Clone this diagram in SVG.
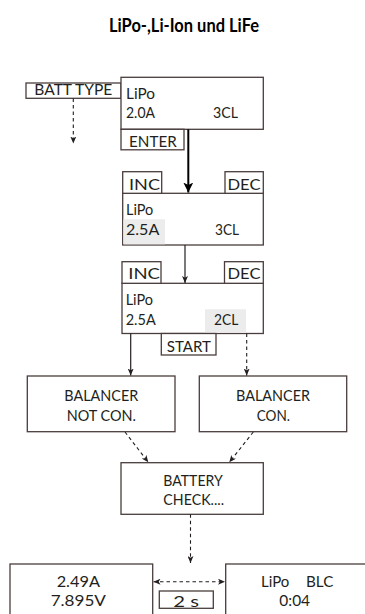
<svg xmlns="http://www.w3.org/2000/svg" width="365" height="614" viewBox="0 0 365 614">
<style>
.bx{fill:#fff;stroke:#4a3c3c;stroke-width:1.3}
.hl{fill:#ececec;stroke:none}
.t{font-family:Lato,"Open Sans","Liberation Sans",sans-serif;fill:#231f20;font-size:15.5px}
.tb{font-family:Lato,"Open Sans","Liberation Sans",sans-serif;fill:#231f20;font-size:16px}
.m{text-anchor:middle}
.ttl{font-family:Lato,"Open Sans","Liberation Sans",sans-serif;font-weight:700;font-size:19.5px;fill:#000;text-anchor:middle}
.thick{stroke:#000;stroke-width:2;fill:none}
.sol{stroke:#231f20;stroke-width:1.2;fill:none}
.dsh{stroke:#231f20;stroke-width:1.1;fill:none;stroke-dasharray:3.5 3}
</style>
<defs>
<marker id="ab" markerWidth="10" markerHeight="10" refX="10" refY="5" orient="auto" markerUnits="userSpaceOnUse" viewBox="0 0 10 10"><path d="M0,0 L10,5 L0,10 L2.5,5 Z" fill="#000"/></marker>
<marker id="as" markerWidth="7" markerHeight="6" refX="7" refY="3" orient="auto" markerUnits="userSpaceOnUse" viewBox="0 0 7 6"><path d="M0,0 L7,3 L0,6 L1.8,3 Z" fill="#231f20"/></marker>
<marker id="asr" markerWidth="7" markerHeight="6" refX="0" refY="3" orient="auto" markerUnits="userSpaceOnUse" viewBox="0 0 7 6"><path d="M7,0 L0,3 L7,6 L5.2,3 Z" fill="#231f20"/></marker>
</defs>

<text class="ttl" x="184" y="32" textLength="150" lengthAdjust="spacingAndGlyphs">LiPo-,Li-Ion und LiFe</text>

<g id="batt-type">
<rect class="bx" x="26" y="83" width="95" height="15.3"/>
<text class="t" x="34.3" y="94.5" textLength="78" lengthAdjust="spacingAndGlyphs">BATT TYPE</text>
</g>

<g id="screen1">
<rect class="bx" x="121" y="77.3" width="142.3" height="52"/>
<text class="t" x="126" y="99.3" textLength="29" lengthAdjust="spacingAndGlyphs">LiPo</text>
<text class="t" x="126" y="118.3" textLength="29" lengthAdjust="spacingAndGlyphs">2.0A</text>
<text class="t" x="213" y="118.3" textLength="25" lengthAdjust="spacingAndGlyphs">3CL</text>
</g>
<g id="enter">
<rect class="bx" x="121" y="129.3" width="63" height="20.5"/>
<text class="t" x="129" y="147.3" textLength="47.7" lengthAdjust="spacingAndGlyphs">ENTER</text>
</g>

<g id="screen2">
<rect class="bx" x="122.7" y="193.3" width="140.6" height="51.7"/>
<rect class="hl" x="123.4" y="219.3" width="41.6" height="25"/>
<text class="t" x="126" y="215" textLength="27.3" lengthAdjust="spacingAndGlyphs">LiPo</text>
<text class="t" x="126" y="235" textLength="33.3" lengthAdjust="spacingAndGlyphs">2.5A</text>
<text class="t" x="215" y="235" textLength="24" lengthAdjust="spacingAndGlyphs">3CL</text>
</g>
<g id="inc2">
<rect class="bx" x="122.7" y="171.7" width="39" height="21.6"/>
<text class="t" x="129" y="190" textLength="31" lengthAdjust="spacingAndGlyphs">INC</text>
</g>
<g id="dec2">
<rect class="bx" x="225" y="171.7" width="38.3" height="21.6"/>
<text class="t" x="227.5" y="190" textLength="33" lengthAdjust="spacingAndGlyphs">DEC</text>
</g>

<g id="screen3">
<rect class="bx" x="122" y="283.3" width="141.3" height="50.2"/>
<rect class="hl" x="205" y="309.3" width="41" height="23.6"/>
<text class="t" x="125.7" y="305" textLength="27.3" lengthAdjust="spacingAndGlyphs">LiPo</text>
<text class="t" x="125.7" y="325" textLength="30" lengthAdjust="spacingAndGlyphs">2.5A</text>
<text class="t" x="214" y="325" textLength="24.3" lengthAdjust="spacingAndGlyphs">2CL</text>
</g>
<g id="inc3">
<rect class="bx" x="122" y="261.7" width="39" height="21.6"/>
<text class="t" x="128.3" y="279" textLength="31.7" lengthAdjust="spacingAndGlyphs">INC</text>
</g>
<g id="dec3">
<rect class="bx" x="224.5" y="261.7" width="38.8" height="21.6"/>
<text class="t" x="227.5" y="279" textLength="33" lengthAdjust="spacingAndGlyphs">DEC</text>
</g>
<g id="start">
<rect class="bx" x="161.3" y="333.5" width="54.7" height="21.5"/>
<text class="t" x="166.7" y="351.7" textLength="44.3" lengthAdjust="spacingAndGlyphs">START</text>
</g>

<g id="bal-not-con">
<rect class="bx" x="27.3" y="376" width="147.7" height="55.7"/>
<text class="tb m" x="101.3" y="401" textLength="74" lengthAdjust="spacingAndGlyphs">BALANCER</text>
<text class="tb m" x="101.3" y="420.5" textLength="69.3" lengthAdjust="spacingAndGlyphs">NOT CON.</text>
</g>
<g id="bal-con">
<rect class="bx" x="199.3" y="376" width="147.4" height="55.7"/>
<text class="tb m" x="273" y="401" textLength="74" lengthAdjust="spacingAndGlyphs">BALANCER</text>
<text class="tb m" x="273.3" y="420.5" textLength="33.3" lengthAdjust="spacingAndGlyphs">CON.</text>
</g>

<g id="battery-check">
<rect class="bx" x="121" y="462.7" width="142.3" height="51.6"/>
<text class="tb m" x="193" y="485.7" textLength="59.4" lengthAdjust="spacingAndGlyphs">BATTERY</text>
<text class="tb m" x="193.7" y="505.2" textLength="60.7" lengthAdjust="spacingAndGlyphs">CHECK....</text>
</g>

<g id="display-a">
<rect class="bx" x="10" y="564" width="142.7" height="60"/>
<text class="tb m" x="78.3" y="587" textLength="43.3" lengthAdjust="spacingAndGlyphs">2.49A</text>
<text class="tb m" x="78.3" y="606.4" textLength="55.3" lengthAdjust="spacingAndGlyphs">7.895V</text>
</g>
<g id="display-b">
<rect class="bx" x="225.7" y="564" width="150" height="60"/>
<text class="tb" y="587"><tspan x="261" textLength="28.3" lengthAdjust="spacingAndGlyphs">LiPo</tspan><tspan x="306" textLength="27.3" lengthAdjust="spacingAndGlyphs">BLC</tspan></text>
<text class="tb m" x="294.7" y="606.4" textLength="30.7" lengthAdjust="spacingAndGlyphs">0:04</text>
</g>
<g id="two-s">
<rect class="bx" x="159.3" y="591" width="54" height="17.3"/>
<text class="tb" x="173.3" y="606.5" textLength="25.7" lengthAdjust="spacingAndGlyphs">2 s</text>
</g>

<g id="connectors">
<line class="dsh" x1="73.3" y1="98.5" x2="73.3" y2="143.5" marker-end="url(#as)"/>
<line class="thick" x1="188.3" y1="129.3" x2="188.3" y2="192.5" marker-end="url(#ab)"/>
<line class="sol" x1="185" y1="245" x2="185" y2="283" marker-end="url(#as)"/>
<line class="sol" x1="130.7" y1="333.5" x2="130.7" y2="375.5" marker-end="url(#as)"/>
<line class="dsh" x1="246.7" y1="333.5" x2="246.7" y2="375.5" marker-end="url(#as)"/>
<line class="dsh" x1="125" y1="432" x2="148.3" y2="462.3" marker-end="url(#as)"/>
<line class="dsh" x1="253.3" y1="432" x2="229.3" y2="462.3" marker-end="url(#as)"/>
<line class="dsh" x1="190.5" y1="514.3" x2="190.5" y2="563" marker-end="url(#as)"/>
<line class="dsh" x1="153.5" y1="581.7" x2="225" y2="581.7" marker-start="url(#asr)" marker-end="url(#as)"/>
</g>
</svg>
